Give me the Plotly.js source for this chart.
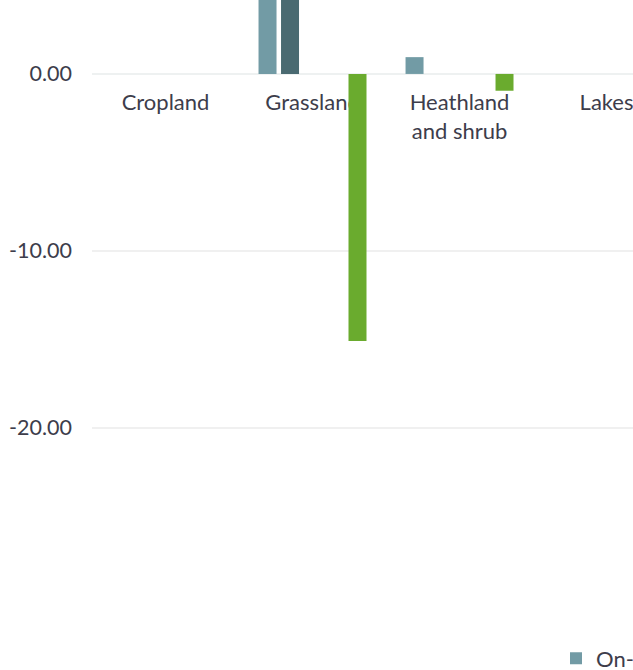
<!DOCTYPE html>
<html>
<head>
<meta charset="utf-8">
<script src="https://cdn.plot.ly/plotly-3.0.1.min.js"></script>
<style>html,body{margin:0;padding:0;background:#fff;}#chart{width:633px;height:670px;}</style>
</head>
<body>
<div id="chart"></div>
<script>
// Categories (chart is cropped on the right)
const categories = ["Cropland", "Grassland", "Heathland<br>and shrub", "Lakes"];

// Series names (only the first is visible in the cropped legend)
const seriesNames = ["On-site baseline", "On-site post-intervention", "Off-site baseline", "Off-site post-intervention", "Net change"];

// Series values (Grassland baseline bars extend beyond the cropped top)
const onSiteBaseline   = [0, 5.5, 0.95, 0];
const onSitePost       = [0, 5.5, 0, 0];
const offSiteBaseline  = [0, 0, 0, 0];
const offSitePost      = [0, 0, 0, 0];
const netChange        = [0, -15.1, -0.95, 0];

const seriesValues = [onSiteBaseline, onSitePost, offSiteBaseline, offSitePost, netChange];
const seriesColors = ["#729ba5", "#4a6a71", "#a9c4c9", "#2f4a50", "#6aab2e"];

const traces = seriesNames.map((name, i) => ({
  type: "bar",
  name: name,
  x: categories,
  y: seriesValues[i],
  marker: {color: seriesColors[i]},
  hoverinfo: "none"
}));

const pxPerUnit = 17.7;
const yTop = 74 / pxPerUnit;
const yMin = -22;
const plotH = (yTop - yMin) * pxPerUnit;

const layout = {
  width: 633,
  height: 670,
  margin: {l: 92, r: 0, t: 0, b: 670 - plotH, autoexpand: false},
  paper_bgcolor: "#ffffff",
  plot_bgcolor: "#ffffff",
  font: {family: "Lato, 'Open Sans', sans-serif", size: 21, color: "#3d3d4b"},
  barmode: "group",
  bargap: 0.235,
  bargroupgap: 0.2,
  showlegend: true,
  legend: {
    orientation: "h",
    x: (556 - 92) / 541,
    xanchor: "left",
    y: -(638 - plotH) / plotH,
    yanchor: "top",
    font: {family: "Lato, sans-serif", size: 22, color: "#3d3d4b"},
    bgcolor: "rgba(0,0,0,0)"
  },
  xaxis: {
    type: "category",
    range: [-0.5, 3.18],
    anchor: "free",
    position: (plotH - 74) / plotH,
    layer: "below traces",
    showline: false,
    showgrid: false,
    zeroline: false,
    ticks: "",
    tickangle: 0,
    ticklabelstandoff: 13,
    automargin: false,
    tickfont: {family: "Lato, sans-serif", size: 22, color: "#3d3d4b"},
    fixedrange: true
  },
  yaxis: {
    range: [yMin, yTop],
    tickvals: [0, -10, -20],
    ticktext: ["0.00", "-10.00", "-20.00"],
    showgrid: true,
    gridcolor: "#f0f0f0",
    gridwidth: 2,
    zeroline: true,
    zerolinecolor: "#eef1f1",
    zerolinewidth: 2,
    showline: false,
    ticks: "",
    automargin: false,
    ticklabelstandoff: 19,
    tickfont: {family: "Lato, sans-serif", size: 21.5, color: "#3d3d4b"},
    fixedrange: true
  }
};

Plotly.newPlot("chart", traces, layout, {displayModeBar: false, staticPlot: true});
</script>
</body>
</html>
